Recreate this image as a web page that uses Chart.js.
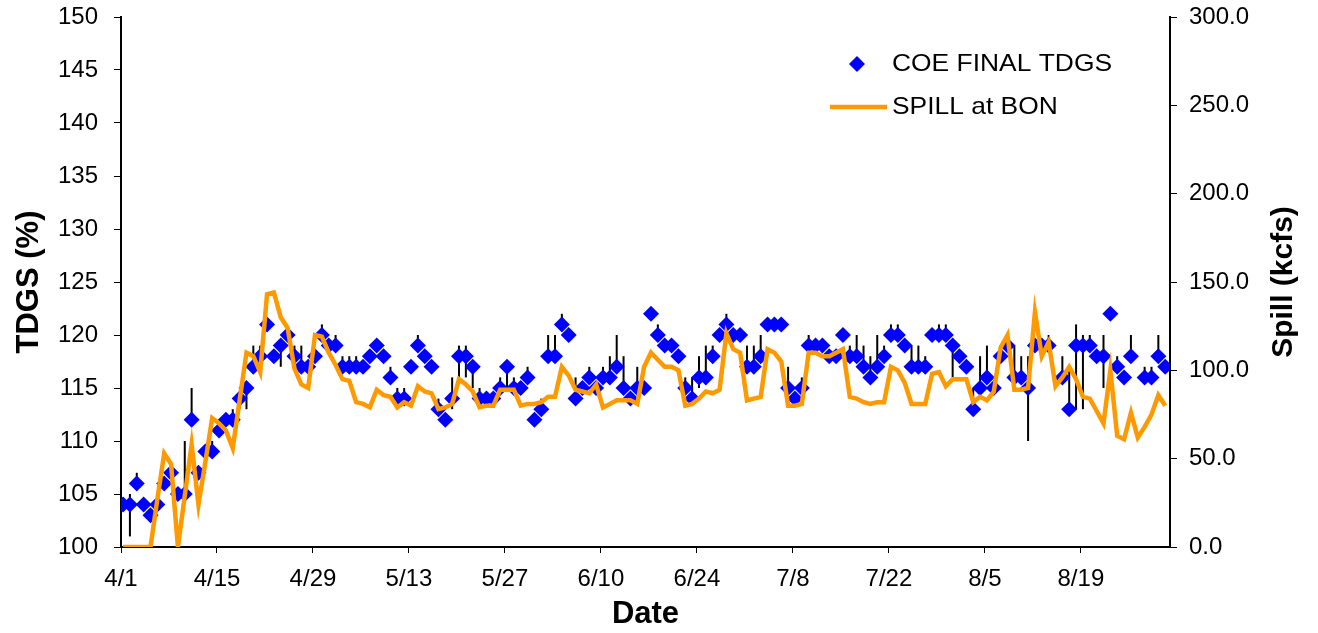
<!DOCTYPE html>
<html>
<head>
<meta charset="utf-8">
<script src="https://cdn.jsdelivr.net/npm/chart.js@4.4.0/dist/chart.umd.min.js"></script>
<style>
  html, body { margin: 0; padding: 0; background: #fff; }
</style>
</head>
<body>
<canvas id="tdgsChart" width="1318" height="633"></canvas>
<script>
// --- DATA (day 0 = 4/1, one value per day through 8/31) ---
const tdgs = [
  104, 104, 106, 104, 103, 104, 106, 107, 105, 105,
  112, 107, 109, 109, 111, 112, 112, 114, 115, 117,
  118, 121, 118, 119, 120, 118, 117, 117, 118, 120,
  119, 119, 117, 117, 117, 117, 118, 119, 118, 116,
  114, 114, 117, 119, 118, 117, 113, 112, 114, 118,
  118, 117, 114, 114, 114, 115, 117, 115, 115, 116,
  112, 113, 118, 118, 121, 120, 114, 115, 116, 115,
  116, 116, 117, 115, 114, 115, 115, 122, 120, 119,
  119, 118, 115, 114, 116, 116, 118, 120, 121, 120,
  120, 117, 117, 118, 121, 121, 121, 115, 114, 115,
  119, 119, 119, 118, 118, 120, 118, 118, 117, 116,
  117, 118, 120, 120, 119, 117, 117, 117, 120, 120,
  120, 119, 118, 117, 113, 115, 116, 115, 118, 119,
  116, 116, 115, 119, 119, 119, null, 116, 113, 119,
  119, 119, 118, 118, 122, 117, 116, 118, null, 116,
  116, 118, 117
];

const spill = [
  0, 0, 0, 0, 0, 27, 53, 47, 0, 29,
  58, 24, 48, 73, 70, 66, 56, 83, 110, 108,
  99, 143, 144, 130, 124, 101, 92, 90, 120, 119,
  110, 103, 95, 94, 82, 81, 79, 89, 86, 85,
  79, 82, 80, 91, 88, 87, 78, 79, 81, 95,
  92, 88, 79, 80, 80, 89, 89, 89, 80, 81,
  81, 82, 85, 85, 102, 97, 89, 88, 87, 92,
  79, 81, 83, 83, 83, 81, 102, 110, 106, 102,
  102, 100, 80, 81, 84, 88, 87, 89, 121, 112,
  110, 83, 84, 85, 112, 110, 105, 80, 80, 81,
  110, 110, 108, 108, 110, 112, 85, 84, 82, 81,
  82, 82, 102, 100, 93, 81, 81, 81, 98, 99,
  91, 95, 95, 95, 82, 85, 83, 88, 113, 120,
  89, 89, 90, 133, 108, 116, 91, 96, 102, 95,
  85, 84, 77, 70, 100, 63, 61, 76, 62, 68,
  75, 86, 80
];

// daily TDGS range bars (day, low, high)
const barDays = [1, 2, 7, 9, 10, 13, 16, 17, 18, 19, 20, 23, 25, 26, 29, 31, 32, 33, 34, 39,
  40, 41, 43, 46, 48, 49, 50, 51, 52, 55, 56, 57, 59, 61, 62, 63, 64, 66, 68, 70,
  71, 72, 73, 75, 78, 82, 83, 84, 85, 86, 88, 91, 92, 93, 97, 99, 100, 106, 107, 108,
  109, 110, 111, 112, 113, 115, 116, 117, 119, 120, 121, 124, 125, 126, 128, 130, 131, 132, 135, 137,
  138, 139, 140, 141, 143, 145, 147, 149, 150, 151];
const barLow = [101, 106, 107, 105, 112, 109, 112, 113, 113, 117, 118, 117, 117, 117, 120, 119, 117, 117, 117, 116,
  114, 114, 119, 113, 113, 116, 116, 115, 114, 115, 115, 115, 116, 113, 118, 118, 121, 114, 116, 116,
  116, 117, 115, 115, 120, 115, 114, 115, 116, 118, 121, 117, 117, 118, 115, 115, 119, 118, 118, 117,
  116, 117, 118, 120, 120, 117, 117, 117, 120, 120, 116, 113, 115, 116, 118, 116, 116, 110, 119, 116,
  113, 113, 113, 119, 115, 117, 118, 116, 116, 118];
const barHigh = [105, 107, 108, 110, 115, 110, 113, 114, 115, 119, 119, 119, 119, 119, 121, 120, 118, 118, 118, 117,
  115, 115, 120, 114, 116, 119, 119, 117, 115, 116, 117, 116, 117, 114, 120, 120, 122, 116, 117, 117,
  118, 120, 118, 117, 121, 116, 116, 118, 119, 119, 122, 119, 119, 120, 117, 116, 120, 119, 120, 119,
  118, 120, 119, 121, 121, 119, 119, 118, 121, 121, 119, 115, 118, 119, 119, 119, 118, 118, 120, 118,
  117, 121, 120, 120, 120, 118, 120, 117, 117, 120];

const tickDays = [0, 14, 28, 42, 56, 70, 84, 98, 112, 126, 140];
const tickLabels = ['4/1', '4/15', '4/29', '5/13', '5/27', '6/10', '6/24', '7/8', '7/22', '8/5', '8/19'];

// readings are taken partway through the day, so they sit a little right of the date tick
const SAMPLE_OFFSET = 0.3;

const FONT = "'Liberation Sans', Arial, sans-serif";
const SPILL_TITLE = 'Spill (kcfs)';

// error bars go under the markers
const rangeBars = {
  id: 'rangeBars',
  beforeDatasetsDraw(chart) {
    const { ctx, scales: { x, y } } = chart;
    ctx.save();
    ctx.strokeStyle = '#000';
    ctx.lineWidth = 2;
    barDays.forEach((d, i) => {
      const px = x.getPixelForValue(d + SAMPLE_OFFSET);
      ctx.beginPath();
      ctx.moveTo(px, y.getPixelForValue(barLow[i]));
      ctx.lineTo(px, y.getPixelForValue(barHigh[i]));
      ctx.stroke();
    });
    ctx.restore();
  }
};

// legend inside the plot + right axis title read bottom-to-top like the left one
const extras = {
  id: 'extras',
  afterDraw(chart) {
    const ctx = chart.ctx;
    const area = chart.chartArea;
    ctx.save();
    ctx.fillStyle = '#0000FF';
    ctx.beginPath();
    ctx.moveTo(857, 56); ctx.lineTo(865, 64); ctx.lineTo(857, 72); ctx.lineTo(849, 64);
    ctx.closePath();
    ctx.fill();
    ctx.strokeStyle = '#FF9900';
    ctx.lineWidth = 4.5;
    ctx.beginPath();
    ctx.moveTo(830, 107); ctx.lineTo(887, 107);
    ctx.stroke();

    ctx.fillStyle = '#000';
    ctx.font = '24px ' + FONT;
    ctx.textBaseline = 'middle';
    ctx.save();
    ctx.translate(892, 0);
    ctx.scale(1.1, 1);
    ctx.fillText(chart.data.datasets[0].label, 0, 64);
    ctx.fillText(chart.data.datasets[1].label, 0, 107);
    ctx.restore();

    ctx.translate(1284, (area.top + area.bottom) / 2);
    ctx.rotate(-Math.PI / 2);
    ctx.font = 'bold 30px ' + FONT;
    ctx.textAlign = 'center';
    ctx.fillText(SPILL_TITLE, 0, 0);
    ctx.restore();
  }
};

const axisLine = { color: '#000', width: 2 };
const tickFont = { family: FONT, size: 24 };
const titleFont = { family: FONT, size: 31, weight: 'bold' };

// fixed box sizes so the plot sits where the original does
const fitSide = w => s => { s.width = w; s.paddingTop = 0; s.paddingBottom = 0; };

new Chart(document.getElementById('tdgsChart'), {
  type: 'line',
  data: {
    datasets: [{
      label: 'COE FINAL TDGS',
      data: tdgs.map((v, i) => ({ x: i + SAMPLE_OFFSET, y: v })),
      yAxisID: 'y',
      showLine: false,
      pointStyle: 'rectRot',
      pointRadius: 8,
      pointBorderWidth: 0,
      pointBackgroundColor: '#0000FF',
      borderColor: '#0000FF',
      order: 2
    }, {
      label: 'SPILL at BON',
      data: spill.map((v, i) => ({ x: i + SAMPLE_OFFSET, y: v })),
      yAxisID: 'y2',
      borderColor: '#FF9900',
      borderWidth: 4.5,
      pointRadius: 0,
      tension: 0,
      order: 1
    }]
  },
  options: {
    responsive: false,
    animation: false,
    layout: { padding: { top: 17, left: 0, right: 0, bottom: 0 } },
    scales: {
      x: {
        type: 'linear',
        min: 0,
        max: 153,
        afterBuildTicks: s => { s.ticks = tickDays.map(v => ({ value: v })); },
        afterFit: s => { s.height = 86; s.paddingLeft = 0; s.paddingRight = 0; },
        ticks: {
          callback: (v, i) => tickLabels[i],
          color: '#000', font: tickFont, padding: 12, maxRotation: 0, autoSkip: false
        },
        grid: { drawOnChartArea: false, drawTicks: true, tickLength: 6, color: '#000' },
        border: axisLine,
        title: { display: true, text: 'Date', color: '#000', font: titleFont, padding: { top: 0, bottom: 0 } }
      },
      y: {
        position: 'left',
        min: 100,
        max: 150,
        afterFit: fitSide(121),
        ticks: { stepSize: 5, color: '#000', font: tickFont, padding: 16 },
        grid: { drawOnChartArea: false, tickLength: 7, color: '#000' },
        border: axisLine,
        title: { display: true, text: 'TDGS (%)', color: '#000', font: titleFont, padding: { top: 11, bottom: 0 } }
      },
      y2: {
        position: 'right',
        min: 0,
        max: 300,
        afterFit: fitSide(148),
        ticks: { stepSize: 50, color: '#000', font: tickFont, padding: 12, callback: v => v.toFixed(1) },
        grid: { drawOnChartArea: false, tickLength: 7, color: '#000' },
        border: axisLine
      }
    },
    plugins: {
      legend: { display: false },
      tooltip: { enabled: false }
    }
  },
  plugins: [rangeBars, extras]
});
</script>
</body>
</html>
